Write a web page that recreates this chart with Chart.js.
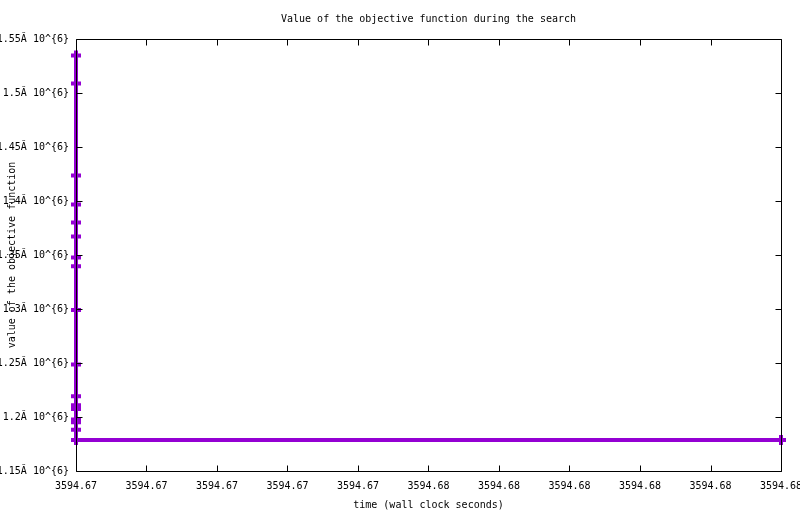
<!DOCTYPE html>
<html>
<head>
<meta charset="utf-8">
<script src="https://cdn.jsdelivr.net/npm/chart.js@4.4.1/dist/chart.umd.min.js"></script>
<style>
  html, body { margin: 0; padding: 0; background: #fff; }
  #wrap { width: 800px; height: 514px; position: relative; }
</style>
</head>
<body>
<div id="wrap"><canvas id="c" width="800" height="514"></canvas></div>
<script>
// ---- data ----
const chartTitle = "Value of the objective function during the search";
const xTitle = "time (wall clock seconds)";
const yTitle = "value of the objective function";

const times = [
  3594.6705, 3594.6705, 3594.6705, 3594.6705, 3594.6705, 3594.6705,
  3594.6705, 3594.6705, 3594.6705, 3594.6705, 3594.6705, 3594.6705,
  3594.6705, 3594.6705, 3594.6705, 3594.6705, 3594.6705, 3594.6805
];
const objective = [
  1534800, 1508700, 1423500, 1396700, 1380100, 1367100,
  1347800, 1339500, 1299100, 1248700, 1219100, 1210800,
  1207500, 1197800, 1195100, 1188100, 1178700, 1178700
];

const xTickValues = [
  3594.6705, 3594.6715, 3594.6725, 3594.6735, 3594.6745, 3594.6755,
  3594.6765, 3594.6775, 3594.6785, 3594.6795, 3594.6805
];
const xTickLabels = [
  "3594.67", "3594.67", "3594.67", "3594.67", "3594.67", "3594.68",
  "3594.68", "3594.68", "3594.68", "3594.68", "3594.68"
];
const yTickValues = [1150000, 1200000, 1250000, 1300000, 1350000, 1400000, 1450000, 1500000, 1550000];
const yTickLabels = [
  "1.15\u0102 10^{6}", "1.2\u0102 10^{6}", "1.25\u0102 10^{6}", "1.3\u0102 10^{6}",
  "1.35\u0102 10^{6}", "1.4\u0102 10^{6}", "1.45\u0102 10^{6}", "1.5\u0102 10^{6}",
  "1.55\u0102 10^{6}"
];

const FONT = '"DejaVu Sans Mono", "Liberation Mono", monospace';
const PURPLE = '#9400D3';

const framePlugin = {
  id: 'frame',
  afterDraw(chart) {
    const ctx = chart.ctx;
    const a = chart.chartArea;
    const xs = chart.scales.x, ys = chart.scales.y;
    const L = Math.round(a.left) + 0.5, R = Math.round(a.right) + 0.5;
    const T = Math.round(a.top) + 0.5, B = Math.round(a.bottom) + 0.5;
    ctx.save();
    ctx.strokeStyle = '#000';
    ctx.lineWidth = 1;
    ctx.beginPath();
    ctx.rect(L, T, R - L, B - T);
    const tl = 6;
    xs.ticks.forEach(t => {
      const px = Math.round(xs.getPixelForValue(t.value)) + 0.5;
      ctx.moveTo(px, B); ctx.lineTo(px, B - tl);
      ctx.moveTo(px, T); ctx.lineTo(px, T + tl);
    });
    ys.ticks.forEach(t => {
      const py = Math.round(ys.getPixelForValue(t.value)) + 0.5;
      ctx.moveTo(L, py); ctx.lineTo(L + tl, py);
      ctx.moveTo(R, py); ctx.lineTo(R - tl, py);
    });
    ctx.stroke();

    ctx.fillStyle = '#000';
    ctx.font = '10px ' + FONT;
    ctx.textAlign = 'center';
    ctx.textBaseline = 'middle';
    const cx = (a.left + a.right) / 2;
    ctx.fillText(chartTitle, cx, 19);
    ctx.fillText(xTitle, cx, 505);
    ctx.translate(12, (a.top + a.bottom) / 2);
    ctx.rotate(-Math.PI / 2);
    ctx.fillText(yTitle, 0, 0);
    ctx.restore();
  }
};

new Chart(document.getElementById('c'), {
  type: 'line',
  data: {
    datasets: [{
      data: times.map((t, i) => ({ x: t, y: objective[i] })),
      borderColor: PURPLE,
      backgroundColor: PURPLE,
      borderWidth: 4,
      pointStyle: 'cross',
      pointRadius: 5,
      pointBorderWidth: 4,
      pointBorderColor: PURPLE,
      pointHoverRadius: 5,
      tension: 0,
      fill: false,
      clip: false
    }]
  },
  options: {
    responsive: false,
    animation: false,
    devicePixelRatio: 1,
    layout: { padding: { left: 0, right: 19, top: 39, bottom: 0 } },
    plugins: {
      legend: { display: false },
      title: { display: false },
      tooltip: { enabled: false }
    },
    scales: {
      x: {
        type: 'linear',
        min: xTickValues[0],
        max: xTickValues[xTickValues.length - 1],
        grid: { display: false, drawTicks: false },
        border: { display: false },
        afterBuildTicks(scale) { scale.ticks = xTickValues.map(v => ({ value: v })); },
        afterFit(scale) { scale.height = 43; scale.paddingLeft = 0; scale.paddingRight = 0; },
        ticks: {
          autoSkip: false, maxRotation: 0, minRotation: 0, padding: 9,
          color: '#000', font: { family: FONT, size: 10 },
          callback(value, index) { return xTickLabels[index]; }
        }
      },
      y: {
        type: 'linear',
        min: yTickValues[0],
        max: yTickValues[yTickValues.length - 1],
        grid: { display: false, drawTicks: false },
        border: { display: false },
        afterBuildTicks(scale) { scale.ticks = yTickValues.map(v => ({ value: v })); },
        afterFit(scale) { scale.width = 76; scale.paddingTop = 0; scale.paddingBottom = 0; },
        ticks: {
          autoSkip: false, padding: 7,
          color: '#000', font: { family: FONT, size: 10 },
          callback(value, index) { return yTickLabels[index]; }
        }
      }
    }
  },
  plugins: [framePlugin]
});
</script>
</body>
</html>
